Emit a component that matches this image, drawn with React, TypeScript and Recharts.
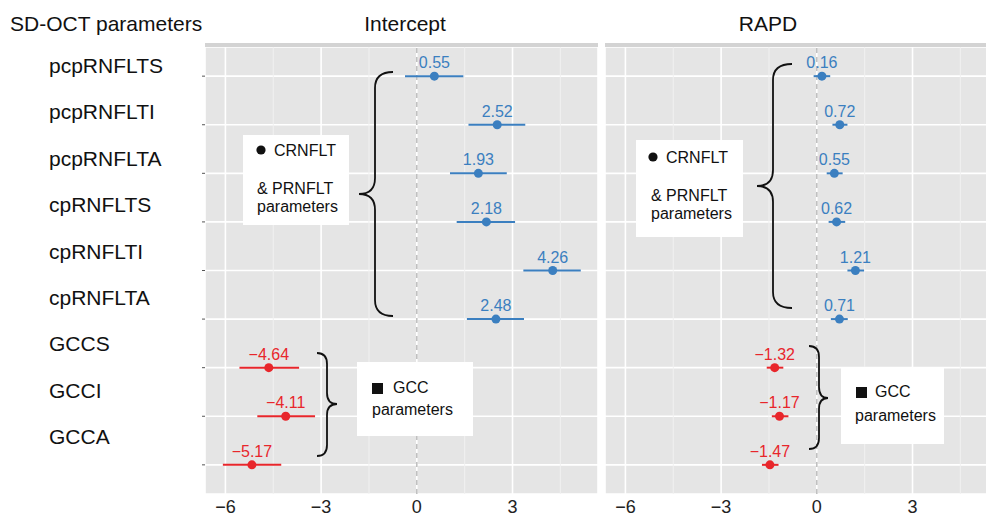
import {
    ScatterChart,
    Scatter,
    XAxis,
    YAxis,
    CartesianGrid,
    ReferenceLine,
    ErrorBar,
} from "recharts";

const params = [
    "pcpRNFLTS",
    "pcpRNFLTI",
    "pcpRNFLTA",
    "cpRNFLTS",
    "cpRNFLTI",
    "cpRNFLTA",
    "GCCS",
    "GCCI",
    "GCCA",
];
const groups = ["rnfl", "rnfl", "rnfl", "rnfl", "rnfl", "rnfl", "gcc", "gcc", "gcc"];

const interceptEst = [0.55, 2.52, 1.93, 2.18, 4.26, 2.48, -4.64, -4.11, -5.17];
const interceptLow = [-0.37, 1.62, 1.04, 1.25, 3.34, 1.57, -5.56, -5.0, -6.08];
const interceptHigh = [1.46, 3.4, 2.82, 3.08, 5.14, 3.36, -3.69, -3.19, -4.25];

const rapdEst = [0.16, 0.72, 0.55, 0.62, 1.21, 0.71, -1.32, -1.17, -1.47];
const rapdLow = [-0.1, 0.49, 0.31, 0.37, 0.96, 0.44, -1.57, -1.41, -1.72];
const rapdHigh = [0.42, 0.96, 0.81, 0.89, 1.48, 0.97, -1.05, -0.89, -1.2];

const xTicks = [-6, -3, 0, 3];
const xMinor = [-4.5, -1.5, 1.5, 4.5];
const rowTicks = [1, 2, 3, 4, 5, 6, 7, 8, 9];

const BLUE = "#3b7fc0";
const RED = "#e8262b";
const FONT = "'Liberation Sans', Arial, Helvetica, sans-serif";

const minus = (v: number | string) => String(v).replace("-", "\u2212");

const buildRows = (est: number[], low: number[], high: number[], group: string) =>
    est
        .map((e, i) => ({
            row: i + 1,
            name: params[i],
            est: e,
            err: [+(e - low[i]).toFixed(2), +(high[i] - e).toFixed(2)],
            group: groups[i],
        }))
        .filter((d) => d.group === group);

const pointShape = (color: string) => (props: any) => {
    const { cx, cy, payload } = props;
    return (
        <g>
            <circle cx={cx} cy={cy} r={4.5} fill={color} />
            <text
                x={cx}
                y={cy - 8}
                textAnchor="middle"
                fontSize={16}
                fontFamily={FONT}
                fill={color}
            >
                {minus(payload.est.toFixed(2))}
            </text>
        </g>
    );
};

// the row names in the original sit a little above their rows and drift upwards
const RowLabel = (props: any) => {
    const { y, payload } = props;
    const i = payload.value - 1;
    return (
        <text x={49} y={y - 10.5 - i * 2.2} dy="0.35em" fontSize={21} fontFamily={FONT} fill="#111">
            {params[i]}
        </text>
    );
};

const Panel = ({
    est,
    low,
    high,
    showRows,
    width,
}: {
    est: number[];
    low: number[];
    high: number[];
    showRows: boolean;
    width: number;
}) => (
    <ScatterChart width={width} height={470} margin={{ top: 0, right: 0, bottom: 0, left: 0 }}>
        <CartesianGrid fill="#e5e5e5" stroke="#ffffff" strokeWidth={1.6} />
        {xMinor.map((m) => (
            <ReferenceLine key={m} x={m} stroke="#f1f1f1" strokeWidth={1} />
        ))}
        <ReferenceLine x={0} stroke="#bdbdbd" strokeWidth={1.5} strokeDasharray="5 4" />
        <XAxis
            type="number"
            dataKey="est"
            domain={[-6.64, 5.68]}
            ticks={xTicks}
            allowDataOverflow
            tickLine={false}
            axisLine={false}
            tickMargin={0}
            height={23}
            tick={{ fontSize: 18, fill: "#222", fontFamily: FONT }}
            tickFormatter={minus}
        />
        {showRows ? (
            <YAxis
                type="number"
                dataKey="row"
                domain={[0.4, 9.6]}
                reversed
                ticks={rowTicks}
                width={205}
                axisLine={false}
                tickSize={3}
                tickLine={{ stroke: "#555" }}
                tick={<RowLabel />}
            />
        ) : (
            <YAxis
                type="number"
                dataKey="row"
                domain={[0.4, 9.6]}
                reversed
                ticks={rowTicks}
                hide
            />
        )}
        <Scatter
            data={buildRows(est, low, high, "rnfl")}
            shape={pointShape(BLUE)}
            isAnimationActive={false}
        >
            <ErrorBar dataKey="err" direction="x" width={0} stroke={BLUE} strokeWidth={2} />
        </Scatter>
        <Scatter
            data={buildRows(est, low, high, "gcc")}
            shape={pointShape(RED)}
            isAnimationActive={false}
        >
            <ErrorBar dataKey="err" direction="x" width={0} stroke={RED} strokeWidth={2} />
        </Scatter>
    </ScatterChart>
);

const brace = (xEnd: number, xSpine: number, xTip: number, y1: number, yMid: number, y2: number, r: number) =>
    `M${xEnd},${y1} Q${xSpine},${y1} ${xSpine},${y1 + r} L${xSpine},${yMid - r} ` +
    `Q${xSpine},${yMid} ${xTip},${yMid} Q${xSpine},${yMid} ${xSpine},${yMid + r} ` +
    `L${xSpine},${y2 - r} Q${xSpine},${y2} ${xEnd},${y2}`;

const Notes = () => (
    <svg
        width={986}
        height={517}
        style={{ position: "absolute", left: 0, top: 0, pointerEvents: "none" }}
        fontFamily={FONT}
    >
        <text x={10} y={31} fontSize={21} fill="#111">SD-OCT parameters</text>
        <text x={405} y={31} fontSize={21} fill="#111" textAnchor="middle">Intercept</text>
        <text x={768} y={31} fontSize={21} fill="#111" textAnchor="middle">RAPD</text>

        <g fill="none" stroke="#111" strokeWidth={1.8}>
            <path d={brace(393, 375, 359, 72, 194, 316, 16)} />
            <path d={brace(792, 773, 757, 64, 186, 308, 16)} />
            <path d={brace(317, 327, 337, 353, 404, 456, 11)} />
            <path d={brace(809, 819, 828, 346, 398, 449, 11)} />
        </g>

        <rect x={243} y={135} width={106} height={90} fill="#fff" />
        <circle cx={261} cy={150} r={4.6} fill="#111" />
        <text x={274} y={156} fontSize={16} fill="#111">CRNFLT</text>
        <text x={257} y={194} fontSize={16} fill="#111">&amp; PRNFLT</text>
        <text x={257} y={212} fontSize={16} fill="#111">parameters</text>

        <rect x={636} y={140} width={107} height={97} fill="#fff" />
        <circle cx={653} cy={157} r={4.6} fill="#111" />
        <text x={666} y={163} fontSize={16} fill="#111">CRNFLT</text>
        <text x={651} y={201} fontSize={16} fill="#111">&amp; PRNFLT</text>
        <text x={651} y={219} fontSize={16} fill="#111">parameters</text>

        <rect x={357} y={362} width={116} height={74} fill="#fff" />
        <rect x={372} y={383} width={11} height={11} fill="#111" />
        <text x={393} y={393} fontSize={16} fill="#111">GCC</text>
        <text x={372} y={415} fontSize={16} fill="#111">parameters</text>

        <rect x={841} y={367} width={103} height={77} fill="#fff" />
        <rect x={856} y={387} width={11} height={11} fill="#111" />
        <text x={875} y={397} fontSize={16} fill="#111">GCC</text>
        <text x={855} y={421} fontSize={16} fill="#111">parameters</text>
    </svg>
);

const App = () => {
    return (
        <div
            style={{
                position: "absolute",
                left: 0,
                top: 0,
                width: 986,
                height: 517,
                overflow: "hidden",
                background: "#fff",
                fontFamily: FONT,
            }}
        >
            <div style={{ position: "absolute", left: 205, top: 43, width: 393, height: 4, background: "#d3d3d3" }} />
            <div style={{ position: "absolute", left: 605, top: 43, width: 393, height: 4, background: "#d3d3d3" }} />
            <div style={{ position: "absolute", left: 0, top: 47 }}>
                <Panel est={interceptEst} low={interceptLow} high={interceptHigh} showRows width={598} />
            </div>
            <div style={{ position: "absolute", left: 605, top: 47 }}>
                <Panel est={rapdEst} low={rapdLow} high={rapdHigh} showRows={false} width={393} />
            </div>
            <Notes />
        </div>
    );
};

export default App;
